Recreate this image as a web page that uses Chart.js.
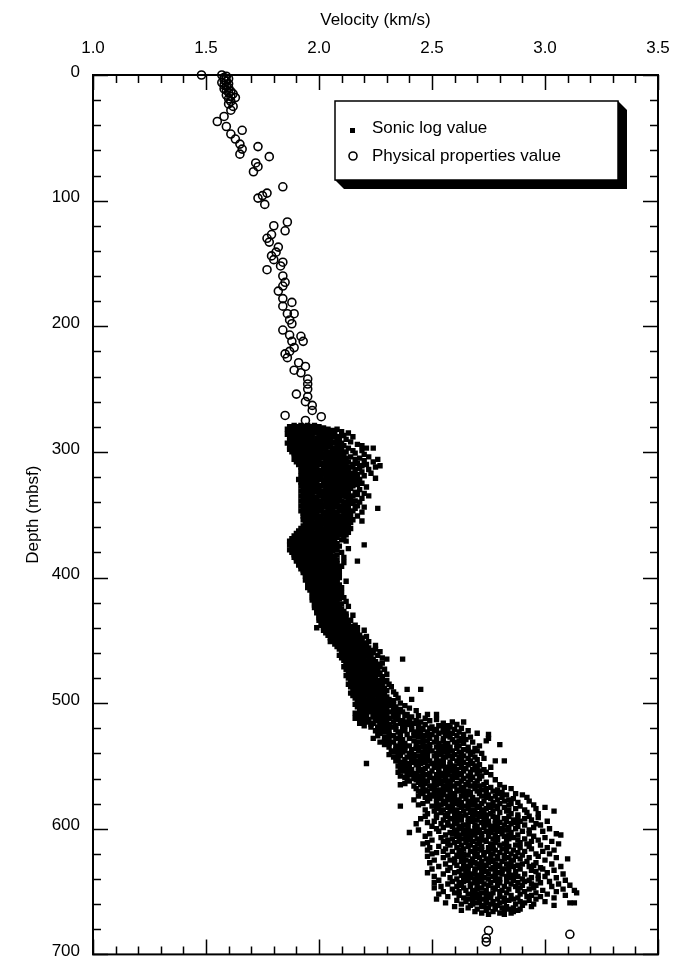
<!DOCTYPE html>
<html>
<head>
<meta charset="utf-8">
<script src="https://cdn.jsdelivr.net/npm/chart.js@4/dist/chart.umd.min.js"></script>
<style>
  html, body { margin: 0; padding: 0; background: #fff; }
  #wrap { width: 682px; height: 960px; }
</style>
</head>
<body>
<div id="wrap"><canvas id="velCanvas"></canvas></div>
<script>
// tick labels / tick marks
const velocityLabels = [1.0, 1.5, 2.0, 2.5, 3.0, 3.5];
const velocityTickMarks = [1.0, 1.1, 1.2, 1.3, 1.4, 1.5, 1.6, 1.7, 1.8, 1.9, 2.0, 2.1, 2.2, 2.3, 2.4,
  2.5, 2.6, 2.7, 2.8, 2.9, 3.0, 3.1, 3.2, 3.3, 3.4, 3.5];
const depthLabels = [0, 100, 200, 300, 400, 500, 600, 700];
const depthTickMarks = [0, 20, 40, 60, 80, 100, 120, 140, 160, 180, 200, 220, 240, 260, 280, 300, 320,
  340, 360, 380, 400, 420, 440, 460, 480, 500, 520, 540, 560, 580, 600, 620, 640, 660, 680, 700];

// physical properties: [depth (mbsf), velocity (km/s)]
const physProps = [
  [0,1.48],[0,1.57],[1,1.59],[2,1.58],[3,1.60],[4,1.58],[5,1.59],[6,1.57],[7,1.60],[8,1.58],
  [9,1.59],[10,1.60],[11,1.58],[12,1.59],[13,1.61],[14,1.60],[15,1.62],[16,1.59],[17,1.61],[18,1.63],
  [19,1.60],[21,1.61],[23,1.60],[25,1.62],[28,1.61],[33,1.58],[37,1.55],[41,1.59],[44,1.66],[47,1.61],
  [51,1.63],[55,1.65],[59,1.66],[63,1.65],[57,1.73],[65,1.78],[70,1.72],[73,1.73],[77,1.71],[89,1.84],
  [94,1.77],[96,1.75],[98,1.73],[103,1.76],[117,1.86],[120,1.80],[124,1.85],[127,1.79],[130,1.77],[133,1.78],
  [137,1.82],[141,1.81],[144,1.79],[147,1.80],[149,1.84],[152,1.83],[155,1.77],[160,1.84],[165,1.85],[168,1.84],
  [172,1.82],[178,1.84],[181,1.88],[184,1.84],[190,1.86],[190,1.89],[195,1.87],[198,1.88],[203,1.84],[207,1.87],
  [208,1.92],[212,1.93],[212,1.88],[217,1.89],[220,1.87],[222,1.85],[225,1.86],[229,1.91],[232,1.94],[235,1.89],
  [237,1.92],[242,1.95],[246,1.95],[250,1.95],[254,1.90],[256,1.95],[260,1.94],[263,1.97],[267,1.97],[272,2.01],
  [271,1.85],[275,1.94],[681,2.75],[687,2.74],[690,2.74],[684,3.11]
];

// sonic log: each row = [depth, velocity, velocity, ...]
const sonicUpper = [
  [279,1.89,1.92,1.95,1.98],[280,1.87,1.91,1.96,2.00,1.93],[281,1.88,1.94,1.90,2.02,1.97],
  [282,1.86,1.92,1.99,2.04,1.95,2.08],[283,1.89,1.93,1.97,2.01,2.06],[284,1.87,1.95,1.91,2.03,2.10,1.99],
  [285,1.88,1.92,1.98,2.05,2.01,2.13],[286,1.90,1.86,1.96,2.02,2.07,1.94],[287,1.89,1.93,2.00,2.04,1.97,2.11],
  [288,1.87,1.91,1.95,2.06,2.09,2.02,2.15],[289,1.88,1.94,1.99,2.03,2.08,1.92],[290,1.89,1.96,1.93,2.01,2.05,2.12],
  [291,1.87,1.90,1.97,2.04,2.09,2.00],[292,1.88,1.94,1.98,2.02,2.07,2.14,1.92],[293,1.86,1.91,1.95,2.00,2.06,2.10],
  [294,1.89,1.93,1.99,2.03,2.08,1.96,2.17],[295,1.88,1.92,1.97,2.01,2.05,2.11,2.19],[296,1.90,1.95,1.99,2.04,2.09,1.87],
  [297,1.89,1.93,1.98,2.02,2.07,2.13,2.21,2.24],[298,1.87,1.91,1.96,2.00,2.06,2.10],[299,1.90,1.94,1.98,2.03,2.08,2.15,2.19],
  [300,1.88,1.92,1.97,2.01,2.05,2.12],[301,1.91,1.95,2.00,2.04,2.09,1.89,2.16],[302,1.89,1.94,1.98,2.02,2.07,2.11,2.20],
  [303,1.92,1.96,2.01,2.05,2.10,1.90],[304,1.90,1.95,1.99,2.03,2.08,2.14,2.22],[305,1.91,1.93,1.97,2.02,2.06,2.12,2.18],
  [306,1.89,1.94,1.99,2.04,2.09,2.16,2.26],[307,1.92,1.96,2.00,2.05,2.11,2.07,2.20],[308,1.90,1.95,1.98,2.03,2.08,2.13,2.24],
  [309,1.93,1.97,2.01,2.06,2.10,2.17],[310,1.91,1.96,2.00,2.04,2.09,2.15,2.21],[311,1.94,1.98,2.02,2.07,2.12,2.19,2.27],
  [312,1.92,1.95,1.99,2.05,2.10,2.14,2.25],[313,1.93,1.97,2.03,2.08,2.12,2.18],[314,1.94,1.99,2.02,2.06,2.11,2.16,2.22],
  [315,1.92,1.96,2.01,2.05,2.09,2.13],[316,1.95,1.98,2.03,2.07,2.12,2.19],[317,1.93,1.97,2.02,2.06,2.10,2.15,2.23],
  [318,1.94,1.99,2.04,2.08,2.13,2.17],[319,1.92,1.96,2.00,2.05,2.11,2.20],[320,1.95,1.98,2.03,2.07,2.12,2.16],
  [321,1.93,1.97,2.01,2.06,2.09,2.14,2.25],[322,1.91,1.96,2.00,2.04,2.10,2.18],[323,1.94,1.98,2.03,2.07,2.12,2.16],
  [324,1.92,1.95,1.99,2.05,2.09,2.14],[325,1.93,1.97,2.02,2.06,2.11,2.19],[326,1.95,1.99,2.04,2.08,2.13,2.17],
  [327,1.92,1.96,2.01,2.05,2.10,2.15],[328,1.94,1.98,2.03,2.07,2.12,2.21],[329,1.93,1.97,2.00,2.06,2.09,2.14],
  [330,1.95,1.99,2.04,2.08,2.11,2.18],[331,1.92,1.96,2.02,2.05,2.10,2.13],[332,1.94,1.98,2.01,2.07,2.12,2.16],
  [333,1.93,1.97,2.03,2.06,2.10,2.20],[334,1.95,2.00,2.04,2.08,2.13,2.17],[335,1.92,1.96,2.01,2.05,2.11,2.15,2.22],
  [336,1.94,1.98,2.03,2.07,2.12],[337,1.93,1.97,2.02,2.06,2.09,2.14,2.19],[338,1.95,1.99,2.04,2.08,2.13],
  [339,1.92,1.96,2.00,2.05,2.10,2.16],[340,1.94,1.98,2.03,2.07,2.11,2.18],[341,1.93,1.97,2.01,2.06,2.12,2.15],
  [342,1.95,1.99,2.04,2.08,2.13],[343,1.92,1.96,2.02,2.05,2.10,2.17],[344,1.94,1.98,2.03,2.07,2.11,2.20],
  [345,1.93,1.97,2.01,2.06,2.12,2.16,2.26],[346,1.95,1.99,2.04,2.09,2.13],[347,1.92,1.96,2.00,2.05,2.10,2.15],
  [348,1.94,1.98,2.03,2.07,2.11,2.19],[349,1.93,1.97,2.02,2.06,2.12],[350,1.95,1.99,2.04,2.08,2.14],
  [351,1.93,1.96,2.01,2.05,2.10,2.17],[352,1.94,1.98,2.03,2.07,2.11],[353,1.95,2.00,2.04,2.09,2.13],
  [354,1.93,1.97,2.02,2.06,2.10,2.15],[355,1.94,1.99,2.03,2.08,2.12,2.19],[356,1.96,2.00,2.05,2.09,2.14],
  [357,1.94,1.98,2.02,2.07,2.11],[358,1.95,1.99,2.04,2.08,2.13],[359,1.93,1.97,2.01,2.06,2.10],
  [360,1.94,1.98,2.03,2.07,2.12],[361,1.92,1.96,2.00,2.05,2.09,2.14],[362,1.94,1.99,2.02,2.06,2.11],
  [363,1.91,1.95,2.00,2.04,2.08],[364,1.93,1.97,2.01,2.05,2.10,2.13],[365,1.90,1.94,1.99,2.03,2.07],
  [366,1.92,1.96,2.00,2.04,2.09,2.12],[367,1.89,1.93,1.98,2.02,2.06],[368,1.91,1.95,1.99,2.03,2.08,2.11],
  [369,1.88,1.92,1.97,2.01,2.05],[370,1.90,1.94,1.98,2.02,2.07,2.10],[371,1.87,1.91,1.96,2.00,2.04,2.12],
  [372,1.89,1.93,1.97,2.01,2.06],[373,1.88,1.92,1.95,1.99,2.03,2.08],[374,1.87,1.90,1.94,1.98,2.02,2.05,2.20],
  [375,1.89,1.93,1.96,2.00,2.04,2.09],[376,1.88,1.91,1.95,1.99,2.03,2.07],[377,1.90,1.94,1.97,2.01,2.05,2.13],
  [378,1.87,1.92,1.96,2.00,2.04,2.08],[379,1.89,1.93,1.98,2.02,2.06],[380,1.88,1.91,1.95,1.99,2.03,2.10],
  [381,1.90,1.94,1.97,2.01,2.05],[382,1.89,1.92,1.96,2.00,2.04,2.08],[383,1.91,1.95,1.99,2.03,2.07],
  [384,1.89,1.93,1.97,2.01,2.05,2.11],[385,1.90,1.94,1.98,2.02,2.06],[386,1.92,1.96,2.00,2.04,2.08],
  [387,1.90,1.94,1.98,2.01,2.05,2.17],[388,1.91,1.95,1.99,2.03,2.07,2.11],[389,1.93,1.96,2.00,2.04,2.08],
  [390,1.91,1.95,1.98,2.02,2.06],[391,1.92,1.96,2.00,2.03,2.07,2.10],[392,1.94,1.97,2.01,2.05,2.08],
  [393,1.92,1.96,1.99,2.03,2.06],[394,1.93,1.97,2.00,2.04,2.08],[395,1.95,1.98,2.02,2.05,2.09],
  [396,1.93,1.97,2.00,2.04,2.07],[397,1.94,1.98,2.01,2.05,2.08],[398,1.95,1.99,2.02,2.06,2.09],
  [399,1.94,1.97,2.01,2.04,2.08]
];
const sonicMiddle = [
  [400,1.95,1.98,2.02,2.05,2.09],[401,1.96,2.00,2.03,2.07],[402,1.94,1.97,2.01,2.04,2.08],
  [403,1.96,1.99,2.03,2.06,2.12],[404,1.95,1.98,2.02,2.05,2.08],[405,1.97,2.00,2.04,2.07],
  [406,1.96,1.99,2.03,2.06,2.09],[407,1.97,2.01,2.04,2.08],[408,1.95,1.98,2.02,2.05,2.10],
  [409,1.97,2.00,2.03,2.07],[410,1.96,1.99,2.02,2.06,2.09],[411,1.98,2.01,2.04,2.08],
  [412,1.97,2.00,2.03,2.06,2.10],[413,1.98,2.02,2.05,2.08],[414,1.97,2.00,2.04,2.07],
  [415,1.99,2.02,2.05,2.09],[416,1.97,2.01,2.04,2.07,2.11],[417,1.98,2.02,2.06,2.09],
  [418,1.97,2.00,2.03,2.07],[419,1.99,2.02,2.05,2.08,2.12],[420,1.98,2.01,2.04,2.07],
  [421,1.99,2.03,2.06,2.10],[422,1.98,2.01,2.05,2.08],[423,2.00,2.03,2.06,2.09,2.13],
  [424,1.98,2.02,2.05,2.08],[425,2.00,2.03,2.07,2.10],[426,1.99,2.02,2.05,2.09],
  [427,2.01,2.04,2.07,2.11],[428,1.99,2.03,2.06,2.09],[429,2.01,2.04,2.08,2.12],
  [430,2.00,2.03,2.06,2.10,2.15],[431,2.02,2.05,2.08,2.12],[432,2.00,2.03,2.07,2.10],
  [433,2.01,2.05,2.08,2.11],[434,2.00,2.04,2.07,2.10,2.14],[435,2.02,2.05,2.09,2.12],
  [436,2.01,2.04,2.07,2.11],[437,2.03,2.06,2.09,2.13],[438,2.01,2.05,2.08,2.12,2.16],
  [439,2.03,2.06,2.10,2.14],[440,1.99,2.02,2.05,2.09,2.13,2.17],[441,2.03,2.07,2.10,2.14],
  [442,2.02,2.05,2.09,2.12,2.16,2.20],[443,2.04,2.07,2.11,2.15],[444,2.03,2.06,2.10,2.13,2.17],
  [445,2.05,2.08,2.12,2.16],[446,2.04,2.07,2.11,2.14,2.18],[447,2.06,2.09,2.13,2.17,2.21],
  [448,2.05,2.08,2.12,2.15,2.19],[449,2.06,2.10,2.14,2.18],[450,2.07,2.11,2.15,2.19],
  [451,2.05,2.09,2.13,2.17,2.22],[452,2.08,2.12,2.16,2.20],[453,2.07,2.10,2.14,2.18],
  [454,2.09,2.13,2.17,2.21,2.25],[455,2.08,2.11,2.15,2.19],[456,2.10,2.14,2.18,2.22],
  [457,2.09,2.12,2.16,2.20,2.25],[458,2.11,2.15,2.19,2.23],[459,2.10,2.13,2.17,2.21,2.27],
  [460,2.12,2.16,2.20,2.24],[461,2.10,2.14,2.18,2.22],[462,2.09,2.13,2.17,2.21,2.26],
  [463,2.11,2.15,2.19,2.23],[464,2.10,2.14,2.18,2.22,2.28],[465,2.12,2.16,2.20,2.24,2.30,2.37],
  [466,2.11,2.15,2.19,2.23],[467,2.13,2.17,2.21,2.25],[468,2.12,2.16,2.20,2.24,2.28],
  [469,2.14,2.18,2.22,2.26],[470,2.12,2.16,2.20,2.24],[471,2.11,2.15,2.19,2.23,2.27],
  [472,2.13,2.17,2.21,2.25],[473,2.12,2.16,2.20,2.24,2.29],[474,2.14,2.18,2.22,2.26],
  [475,2.13,2.17,2.21,2.25],[476,2.15,2.19,2.23,2.27],[477,2.14,2.18,2.22,2.26,2.30],
  [478,2.12,2.16,2.20,2.24],[479,2.15,2.19,2.23,2.28],[480,2.13,2.17,2.21,2.25],
  [481,2.16,2.20,2.24,2.28],[482,2.14,2.18,2.22,2.26,2.30],[483,2.16,2.20,2.25,2.29],
  [484,2.15,2.19,2.23,2.27],[485,2.13,2.17,2.21,2.25,2.31],[486,2.16,2.20,2.24,2.28],
  [487,2.14,2.18,2.22,2.27,2.32],[488,2.17,2.21,2.25,2.29],[489,2.15,2.19,2.23,2.27,2.39,2.45],
  [490,2.17,2.21,2.26,2.30],[491,2.16,2.20,2.24,2.28,2.33],[492,2.14,2.18,2.22,2.26],
  [493,2.17,2.21,2.25,2.29,2.34],[494,2.15,2.19,2.23,2.27],[495,2.18,2.22,2.26,2.30],
  [496,2.16,2.20,2.24,2.28,2.35],[497,2.19,2.23,2.27,2.31,2.41],[498,2.17,2.21,2.25,2.29,2.33],
  [499,2.19,2.23,2.27,2.31],[500,2.17,2.21,2.25,2.30,2.36],[501,2.16,2.20,2.24,2.28,2.33],
  [502,2.18,2.22,2.27,2.31,2.38],[503,2.17,2.21,2.25,2.29,2.34],[504,2.19,2.23,2.28,2.33,2.40],
  [505,2.18,2.22,2.26,2.30,2.36],[506,2.20,2.24,2.29,2.34,2.43],[507,2.18,2.23,2.27,2.32,2.37],
  [508,2.16,2.21,2.25,2.30,2.35],[509,2.19,2.24,2.28,2.33,2.39,2.48,2.52]
];
const sonicLower = [
  [510,2.17,2.29,2.21,2.38,2.26,2.44],[511,2.24,2.19,2.33,2.41,2.28],[512,2.20,2.35,2.26,2.16,2.31,2.47],
  [513,2.28,2.22,2.40,2.18,2.34,2.52],[514,2.25,2.37,2.19,2.30,2.43,2.49],[515,2.21,2.33,2.27,2.45,2.39,2.59,2.64],
  [516,2.29,2.18,2.36,2.24,2.42,2.55],[517,2.23,2.40,2.31,2.47,2.27,2.61],[518,2.34,2.20,2.44,2.29,2.38,2.53,2.57],
  [519,2.26,2.41,2.32,2.50,2.23,2.58],[520,2.30,2.45,2.37,2.55,2.26,2.63,2.49],[521,2.41,2.28,2.52,2.34,2.60,2.46],
  [522,2.25,2.38,2.57,2.44,2.31,2.66,2.51],[523,2.35,2.48,2.29,2.62,2.42,2.55],[524,2.27,2.44,2.53,2.36,2.59,2.70,2.48],
  [525,2.39,2.31,2.50,2.64,2.45,2.57,2.75],[526,2.33,2.47,2.26,2.56,2.42,2.61],[527,2.44,2.36,2.58,2.29,2.52,2.67],
  [528,2.24,2.40,2.49,2.63,2.34,2.55,2.75],[529,2.37,2.46,2.31,2.59,2.52,2.65],[530,2.42,2.29,2.55,2.48,2.36,2.62,2.74],
  [531,2.33,2.51,2.44,2.60,2.27,2.68],[532,2.46,2.38,2.57,2.31,2.64,2.53],[533,2.29,2.43,2.56,2.49,2.36,2.61,2.80],
  [534,2.40,2.54,2.34,2.62,2.47,2.71],[535,2.31,2.45,2.58,2.38,2.52,2.66],[536,2.49,2.36,2.61,2.43,2.55,2.69],
  [537,2.34,2.47,2.57,2.41,2.64,2.53],[538,2.44,2.32,2.59,2.50,2.38,2.66,2.70],[539,2.37,2.55,2.46,2.62,2.33,2.68],
  [540,2.48,2.40,2.57,2.35,2.63,2.52,2.72],[541,2.42,2.60,2.31,2.54,2.46,2.67],[542,2.36,2.51,2.44,2.64,2.58],
  [543,2.45,2.33,2.56,2.39,2.62,2.69],[544,2.52,2.41,2.59,2.35,2.48,2.66,2.73],[545,2.38,2.55,2.46,2.63,2.42,2.70],
  [546,2.49,2.34,2.61,2.54,2.44,2.67,2.78,2.82],[547,2.41,2.58,2.36,2.52,2.64,2.47],[548,2.21,2.45,2.55,2.39,2.62,2.50,2.68],
  [549,2.37,2.53,2.43,2.66,2.58,2.71],[550,2.48,2.40,2.60,2.35,2.55,2.69],[551,2.44,2.57,2.38,2.63,2.51,2.76],
  [552,2.53,2.36,2.47,2.65,2.59,2.70],[553,2.41,2.56,2.45,2.61,2.39,2.68,2.73],[554,2.50,2.37,2.58,2.44,2.64,2.71],
  [555,2.46,2.60,2.35,2.53,2.67,2.74],[556,2.39,2.55,2.49,2.62,2.43,2.70],[557,2.52,2.41,2.63,2.57,2.47,2.76],
  [558,2.44,2.59,2.36,2.54,2.66,2.72],[559,2.49,2.38,2.61,2.45,2.68],[560,2.56,2.42,2.64,2.51,2.39,2.71],
  [561,2.46,2.59,2.53,2.67,2.43,2.78],[562,2.40,2.55,2.48,2.63,2.70,2.58],[563,2.51,2.44,2.66,2.57,2.74],
  [564,2.47,2.61,2.38,2.54,2.69,2.62],[565,2.36,2.52,2.45,2.65,2.58,2.73,2.80],[566,2.49,2.60,2.42,2.56,2.71,2.67],
  [567,2.55,2.46,2.63,2.51,2.76,2.82],[568,2.43,2.58,2.69,2.50,2.64,2.74,2.85],[569,2.53,2.47,2.61,2.72,2.57,2.79],
  [570,2.48,2.62,2.55,2.70,2.44,2.77,2.66],[571,2.58,2.51,2.67,2.46,2.74,2.81],[572,2.45,2.60,2.53,2.71,2.64,2.79,2.87],
  [573,2.55,2.49,2.66,2.75,2.59,2.83,2.90],[574,2.51,2.63,2.44,2.57,2.72,2.78],[575,2.60,2.47,2.68,2.54,2.81,2.74,2.92],
  [576,2.53,2.65,2.58,2.76,2.49,2.86],[577,2.42,2.57,2.70,2.62,2.52,2.79,2.84],[578,2.48,2.61,2.55,2.73,2.67,2.82,2.93],
  [579,2.59,2.52,2.69,2.77,2.63,2.88],[580,2.46,2.56,2.66,2.72,2.60,2.80,2.85],[581,2.44,2.62,2.54,2.75,2.68,2.84,2.95],
  [582,2.36,2.50,2.65,2.58,2.78,2.71,2.89],[583,2.57,2.70,2.63,2.82,2.52,2.76,3.00],[584,2.53,2.66,2.74,2.59,2.87,2.79,2.96],
  [585,2.47,2.61,2.55,2.72,2.68,2.84,2.91],[586,2.58,2.69,2.51,2.77,2.64,2.83,3.04],[587,2.54,2.67,2.60,2.80,2.73,2.92],
  [588,2.48,2.62,2.71,2.57,2.85,2.76,2.97],[589,2.56,2.65,2.52,2.74,2.69,2.88]
];
const sonicBottom = [
  [590,2.47,2.63,2.71,2.56,2.84,2.77,2.93],[591,2.52,2.68,2.60,2.79,2.88,2.73,2.97],[592,2.45,2.58,2.74,2.66,2.82,2.91,2.62],
  [593,2.55,2.70,2.63,2.86,2.78,2.94],[594,2.60,2.51,2.75,2.68,2.83,3.01,2.89],[595,2.48,2.66,2.57,2.80,2.72,2.87],
  [596,2.43,2.61,2.73,2.54,2.85,2.78,2.96],[597,2.57,2.69,2.64,2.82,2.91,2.75,2.98],[598,2.50,2.62,2.77,2.70,2.88,2.59],
  [599,2.55,2.73,2.66,2.84,2.79,2.95],[600,2.63,2.52,2.76,2.69,2.87,2.81,3.02],[601,2.44,2.60,2.71,2.65,2.83,2.93,2.77],
  [602,2.53,2.68,2.79,2.61,2.90,2.74,2.99],[603,2.40,2.58,2.66,2.76,2.85,2.70],[604,2.49,2.64,2.81,2.72,2.93,2.59,3.05],
  [605,2.56,2.69,2.62,2.78,2.88,2.84,3.07],[606,2.47,2.61,2.75,2.67,2.82,2.95],[607,2.54,2.72,2.65,2.86,2.79,3.00],
  [608,2.59,2.70,2.63,2.77,2.91,2.84],[609,2.50,2.66,2.79,2.57,2.88,2.73,2.97],[610,2.62,2.55,2.74,2.68,2.83,2.94,3.03],
  [611,2.48,2.65,2.78,2.71,2.89,2.60],[612,2.46,2.57,2.70,2.82,2.76,2.92,3.06],[613,2.58,2.67,2.63,2.80,2.87,2.98],
  [614,2.53,2.72,2.66,2.84,2.77,2.93],[615,2.49,2.61,2.75,2.69,2.89,3.01,2.83],[616,2.56,2.70,2.64,2.81,2.94,2.77],
  [617,2.48,2.63,2.78,2.72,2.86,3.04],[618,2.59,2.67,2.55,2.83,2.75,2.91,2.99],[619,2.52,2.69,2.62,2.80,2.88,2.73],
  [620,2.50,2.64,2.77,2.70,2.85,2.96,3.02],[621,2.57,2.73,2.66,2.82,2.90,2.61],[622,2.48,2.62,2.76,2.69,2.87,2.79,2.97],
  [623,2.55,2.71,2.64,2.84,2.93,3.05],[624,2.60,2.68,2.79,2.74,2.89,3.10,2.82],[625,2.51,2.65,2.58,2.77,2.86,3.00],
  [626,2.63,2.72,2.67,2.81,2.92,2.76],[627,2.49,2.60,2.75,2.69,2.85,2.96],[628,2.56,2.70,2.64,2.83,2.78,2.90,3.03],
  [629,2.61,2.74,2.67,2.88,2.80,2.95],[630,2.53,2.66,2.79,2.72,2.86,3.07,2.93],[631,2.58,2.71,2.64,2.84,2.77,2.98],
  [632,2.50,2.63,2.76,2.69,2.89,2.82,2.99],[633,2.57,2.73,2.66,2.81,2.94,3.04],[634,2.62,2.69,2.78,2.74,2.87,2.96],
  [635,2.48,2.60,2.72,2.65,2.84,2.79,3.01],[636,2.55,2.68,2.81,2.75,2.91,3.08],[637,2.63,2.71,2.66,2.86,2.78,2.97],
  [638,2.51,2.64,2.77,2.70,2.88,2.83,3.00],[639,2.58,2.73,2.67,2.85,2.94,3.05],[640,2.61,2.69,2.80,2.75,2.90,2.97],
  [641,2.53,2.66,2.78,2.72,2.86,3.09,2.93],[642,2.59,2.71,2.64,2.83,2.91,3.02],[643,2.51,2.62,2.76,2.69,2.88,2.80,2.98],
  [644,2.57,2.73,2.67,2.85,2.94,3.06],[645,2.63,2.70,2.79,2.75,2.90,3.11,2.96],[646,2.54,2.67,2.61,2.82,2.87,3.03],
  [647,2.51,2.64,2.77,2.72,2.89,2.95],[648,2.59,2.70,2.84,2.78,2.93,3.08],[649,2.65,2.74,2.69,2.88,2.99,3.13,2.81],
  [650,2.55,2.68,2.62,2.80,2.91,3.05],[651,2.60,2.72,2.83,2.77,2.96,3.14],[652,2.53,2.66,2.76,2.70,2.89,3.01],
  [653,2.62,2.74,2.68,2.85,2.94,3.09],[654,2.57,2.71,2.80,2.76,2.92,2.98],[655,2.64,2.69,2.82,2.88,2.75,3.04],
  [656,2.52,2.66,2.79,2.72,2.86,2.96],[657,2.61,2.74,2.68,2.84,2.93],[658,2.65,2.77,2.71,2.89,3.00,2.82],
  [659,2.56,2.70,2.80,2.74,2.91,3.11,3.13],[660,2.63,2.76,2.68,2.87,2.95],[661,2.67,2.79,2.73,2.90,3.04],
  [662,2.60,2.72,2.83,2.78,2.94],[663,2.66,2.75,2.86,2.81],[664,2.70,2.78,2.89,2.84],[665,2.63,2.74,2.82,2.88],
  [666,2.69,2.77,2.86],[667,2.72,2.80,2.85],[668,2.75,2.82]
];

function rowsToPoints(rows) {
  let pts = [];
  for (let i = 0; i < rows.length; i++) {
    for (let j = 1; j < rows[i].length; j++) {
      pts.push({x: rows[i][j], y: rows[i][0]});
    }
  }
  return pts;
}

let sonicPoints = rowsToPoints(sonicUpper)
  .concat(rowsToPoints(sonicMiddle))
  .concat(rowsToPoints(sonicLower))
  .concat(rowsToPoints(sonicBottom));
let physPoints = physProps.map(p => ({x: p[1], y: p[0]}));

const FONT = "'Liberation Sans', Arial, Helvetica, sans-serif";
Chart.defaults.font.family = FONT;
Chart.defaults.font.size = 17;
Chart.defaults.color = "#000";

// frame + inward tick marks on all four sides
const frameTicks = {
  id: 'frameTicks',
  afterDatasetsDraw(chart) {
    const ctx = chart.ctx;
    const a = chart.chartArea;
    const xs = chart.scales.x;
    const ys = chart.scales.y;
    ctx.save();
    ctx.strokeStyle = "#000";
    ctx.lineWidth = 1.5;
    ctx.beginPath();
    velocityTickMarks.forEach(v => {
      const px = Math.round(xs.getPixelForValue(v)) + 0.5;
      const len = velocityLabels.includes(v) ? 15 : 8;
      ctx.moveTo(px, a.top); ctx.lineTo(px, a.top + len);
      ctx.moveTo(px, a.bottom); ctx.lineTo(px, a.bottom - len);
    });
    depthTickMarks.forEach(d => {
      const py = Math.round(ys.getPixelForValue(d)) + 0.5;
      const len = depthLabels.includes(d) ? 15 : 8;
      ctx.moveTo(a.left, py); ctx.lineTo(a.left + len, py);
      ctx.moveTo(a.right, py); ctx.lineTo(a.right - len, py);
    });
    ctx.stroke();
    ctx.lineWidth = 2;
    ctx.strokeRect(a.left, a.top, a.right - a.left, a.bottom - a.top);
    ctx.restore();
  }
};

// boxed legend with a drop shadow
const shadowLegend = {
  id: 'shadowLegend',
  afterDraw(chart) {
    const ctx = chart.ctx;
    const l = 335, t = 101, r = 618, b = 180, off = 9;
    ctx.save();
    ctx.fillStyle = "#000";
    ctx.beginPath();
    ctx.moveTo(r, t);
    ctx.lineTo(r + off, t + off);
    ctx.lineTo(r + off, b + off);
    ctx.lineTo(l + off, b + off);
    ctx.lineTo(l, b);
    ctx.closePath();
    ctx.fill();
    ctx.fillStyle = "#fff";
    ctx.fillRect(l, t, r - l, b - t);
    ctx.strokeStyle = "#000";
    ctx.lineWidth = 1.5;
    ctx.strokeRect(l, t, r - l, b - t);

    ctx.fillStyle = "#000";
    ctx.fillRect(350, 128, 5, 5);
    ctx.lineWidth = 1.6;
    ctx.beginPath();
    ctx.arc(353, 156, 4, 0, Math.PI * 2);
    ctx.stroke();

    ctx.font = "17px " + FONT;
    ctx.textBaseline = "middle";
    ctx.textAlign = "left";
    ctx.fillText("Sonic log value", 372, 128);
    ctx.fillText("Physical properties value", 372, 156);
    ctx.restore();
  }
};

velCanvas = document.getElementById("velCanvas");

velChart = new Chart(velCanvas, {
  type: "scatter",
  data: {
    datasets: [{
      label: "Physical properties value",
      data: physPoints,
      pointStyle: "circle",
      pointRadius: 4,
      borderWidth: 1.6,
      borderColor: "#000",
      backgroundColor: "rgba(0,0,0,0)",
      clip: false
    }, {
      label: "Sonic log value",
      data: sonicPoints,
      pointStyle: "rect",
      pointRadius: 3.8,
      borderWidth: 0,
      backgroundColor: "#000"
    }]
  },
  options: {
    responsive: true,
    maintainAspectRatio: false,
    animation: false,
    events: [],
    layout: { padding: { top: 0, left: 0, right: 24, bottom: 3 } },
    scales: {
      x: {
        type: "linear",
        position: "top",
        min: 1.0,
        max: 3.5,
        grid: { display: false, drawTicks: false },
        border: { display: false },
        ticks: {
          stepSize: 0.5,
          padding: 16,
          maxRotation: 0,
          callback: function(value) { return value.toFixed(1); }
        },
        title: { display: true, text: "Velocity (km/s)", padding: { top: 10, bottom: 0 } },
        afterFit: function(scale) {
          scale.height = 75;
          scale.paddingLeft = 0;
          scale.paddingRight = 0;
        }
      },
      y: {
        type: "linear",
        position: "left",
        reverse: true,
        min: 0,
        max: 700,
        grid: { display: false, drawTicks: false },
        border: { display: false },
        ticks: { stepSize: 100, padding: 13, labelOffset: -3 },
        title: { display: true, text: "Depth (mbsf)", padding: { top: 23, bottom: 0 } },
        afterFit: function(scale) {
          scale.width = 93;
          scale.paddingTop = 0;
          scale.paddingBottom = 0;
        }
      }
    },
    plugins: {
      legend: { display: false }, // legend drawn by shadowLegend
      tooltip: { enabled: false }
    }
  },
  plugins: [frameTicks, shadowLegend]
});
</script>
</body>
</html>
